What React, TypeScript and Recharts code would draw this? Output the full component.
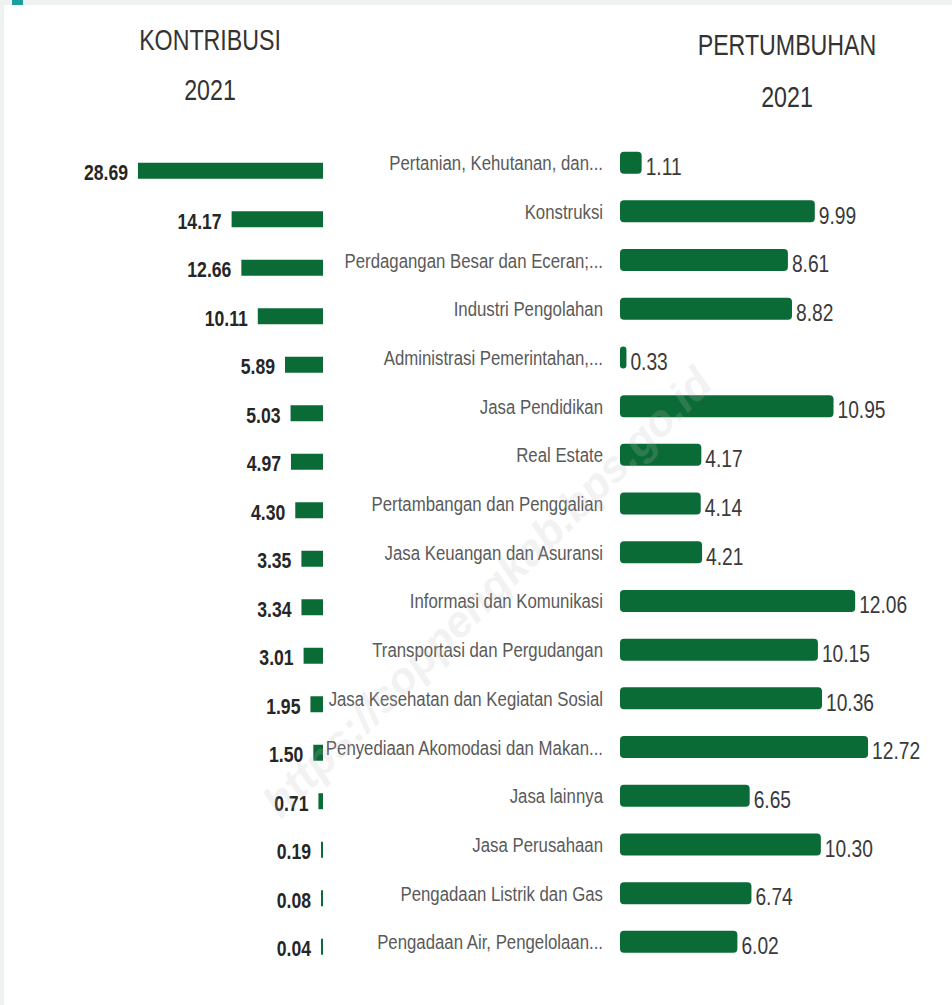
import React from 'react'
import { BarChart, Bar, XAxis, YAxis, LabelList } from 'recharts'

// sector names, top to bottom
const sectors = [
  'Pertanian, Kehutanan, dan...',
  'Konstruksi',
  'Perdagangan Besar dan Eceran;...',
  'Industri Pengolahan',
  'Administrasi Pemerintahan,...',
  'Jasa Pendidikan',
  'Real Estate',
  'Pertambangan dan Penggalian',
  'Jasa Keuangan dan Asuransi',
  'Informasi dan Komunikasi',
  'Transportasi dan Pergudangan',
  'Jasa Kesehatan dan Kegiatan Sosial',
  'Penyediaan Akomodasi dan Makan...',
  'Jasa lainnya',
  'Jasa Perusahaan',
  'Pengadaan Listrik dan Gas',
  'Pengadaan Air, Pengelolaan...',
]

const kontribusi2021 = [28.69, 14.17, 12.66, 10.11, 5.89, 5.03, 4.97, 4.3, 3.35, 3.34, 3.01, 1.95, 1.5, 0.71, 0.19, 0.08, 0.04]
const pertumbuhan2021 = [1.11, 9.99, 8.61, 8.82, 0.33, 10.95, 4.17, 4.14, 4.21, 12.06, 10.15, 10.36, 12.72, 6.65, 10.3, 6.74, 6.02]

const leftTitle = ['KONTRIBUSI', '2021']
const rightTitle = ['PERTUMBUHAN', '2021']
const watermark = 'https://soppengkab.bps.go.id'

// no narrow font installed, so squeeze Liberation Sans horizontally
const FONT = '"Liberation Sans", Arial, sans-serif'
const SQUEEZE = 0.8
const GREEN = '#0b6b36'

const rows = sectors.map((name, i) => ({
  name,
  kontribusi: kontribusi2021[i],
  pertumbuhan: pertumbuhan2021[i],
}))

const fmt = (v: number) => v.toFixed(2)

function NarrowText({ x, y, anchor, size, color, bold, children }: any) {
  return (
    <text
      transform={`translate(${x} ${y}) scale(${SQUEEZE} 1)`}
      x={0}
      y={0}
      textAnchor={anchor}
      dominantBaseline="central"
      fontFamily={FONT}
      fontWeight={bold ? 'bold' : 'normal'}
      fontSize={size}
      fill={color}
    >
      {children}
    </text>
  )
}

// labels on the left side of the reversed bars
function LeftValueLabel(props: any) {
  const { x, y, width, height, value } = props
  const left = Math.min(Number(x), Number(x) + Number(width))
  return (
    <NarrowText x={left - 10} y={Number(y) + Number(height) / 2 + 2} anchor="end" size={22} color="#262626" bold>
      {fmt(value)}
    </NarrowText>
  )
}

function RightValueLabel(props: any) {
  const { x, y, width, height, value } = props
  return (
    <NarrowText x={Number(x) + Number(width) + 4} y={Number(y) + Number(height) / 2 + 4} anchor="start" size={24} color="#3a3a3a">
      {fmt(value)}
    </NarrowText>
  )
}

function SectorTick(props: any) {
  const { y, payload } = props
  return (
    <NarrowText x={603} y={y} anchor="end" size={21} color="#5a5a5a">
      {payload.value}
    </NarrowText>
  )
}

function Title({ x, y, children }: any) {
  return (
    <text
      transform={`translate(${x} ${y}) scale(${SQUEEZE} 1)`}
      x={0}
      y={0}
      textAnchor="middle"
      fontFamily={FONT}
      fontSize={29}
      fill="#333"
    >
      {children}
    </text>
  )
}

export default function App() {
  return (
    <div style={{ position: 'absolute', left: 0, top: 0, width: 952, height: 1005, background: '#fff', overflow: 'hidden' }}>
      {/* frame */}
      <div style={{ position: 'absolute', left: 0, top: 0, width: 952, height: 5, background: '#eef2f1' }} />
      <div style={{ position: 'absolute', left: 0, top: 0, width: 4, height: 1005, background: '#eef2f1' }} />
      <div style={{ position: 'absolute', left: 12, top: 0, width: 11, height: 5, background: '#1a9e9e' }} />

      <svg style={{ position: 'absolute', left: 0, top: 0 }} width={952} height={140}>
        <Title x={210} y={50}>{leftTitle[0]}</Title>
        <Title x={210} y={100}>{leftTitle[1]}</Title>
        <Title x={787} y={55}>{rightTitle[0]}</Title>
        <Title x={787} y={107}>{rightTitle[1]}</Title>
      </svg>

      <div style={{ position: 'absolute', left: 0, top: 0 }}>
        <BarChart
          layout="vertical"
          width={340}
          height={1005}
          data={rows}
          margin={{ top: 146.75, bottom: 33.75, left: 129.5, right: 17 }}
        >
          <XAxis type="number" domain={[0, 30]} reversed hide />
          <YAxis type="category" dataKey="name" hide />
          <Bar dataKey="kontribusi" fill={GREEN} barSize={16} minPointSize={2} isAnimationActive={false}>
            <LabelList dataKey="kontribusi" content={<LeftValueLabel />} />
          </Bar>
        </BarChart>
      </div>

      <div style={{ position: 'absolute', left: 0, top: 0 }}>
        <BarChart
          layout="vertical"
          width={952}
          height={1005}
          data={rows}
          margin={{ top: 138.65, bottom: 38.45, left: 330, right: 59 }}
        >
          <XAxis type="number" domain={[0, 14]} hide />
          <YAxis
            type="category"
            dataKey="name"
            width={290}
            axisLine={false}
            tickLine={false}
            interval={0}
            tick={<SectorTick />}
          />
          <Bar dataKey="pertumbuhan" fill={GREEN} barSize={22} radius={[4, 4, 4, 4]} isAnimationActive={false}>
            <LabelList dataKey="pertumbuhan" content={<RightValueLabel />} />
          </Bar>
        </BarChart>
      </div>

      {/* watermark */}
      <svg style={{ position: 'absolute', left: 0, top: 0, pointerEvents: 'none' }} width={952} height={1005}>
        <text
          x={487}
          y={592}
          textAnchor="middle"
          dominantBaseline="central"
          transform="rotate(-45 487 592)"
          fontFamily={FONT}
          fontWeight="bold"
          fontStyle="italic"
          fontSize={44}
          fill="#bbbbbb"
          fillOpacity={0.2}
        >
          {watermark}
        </text>
      </svg>
    </div>
  )
}
